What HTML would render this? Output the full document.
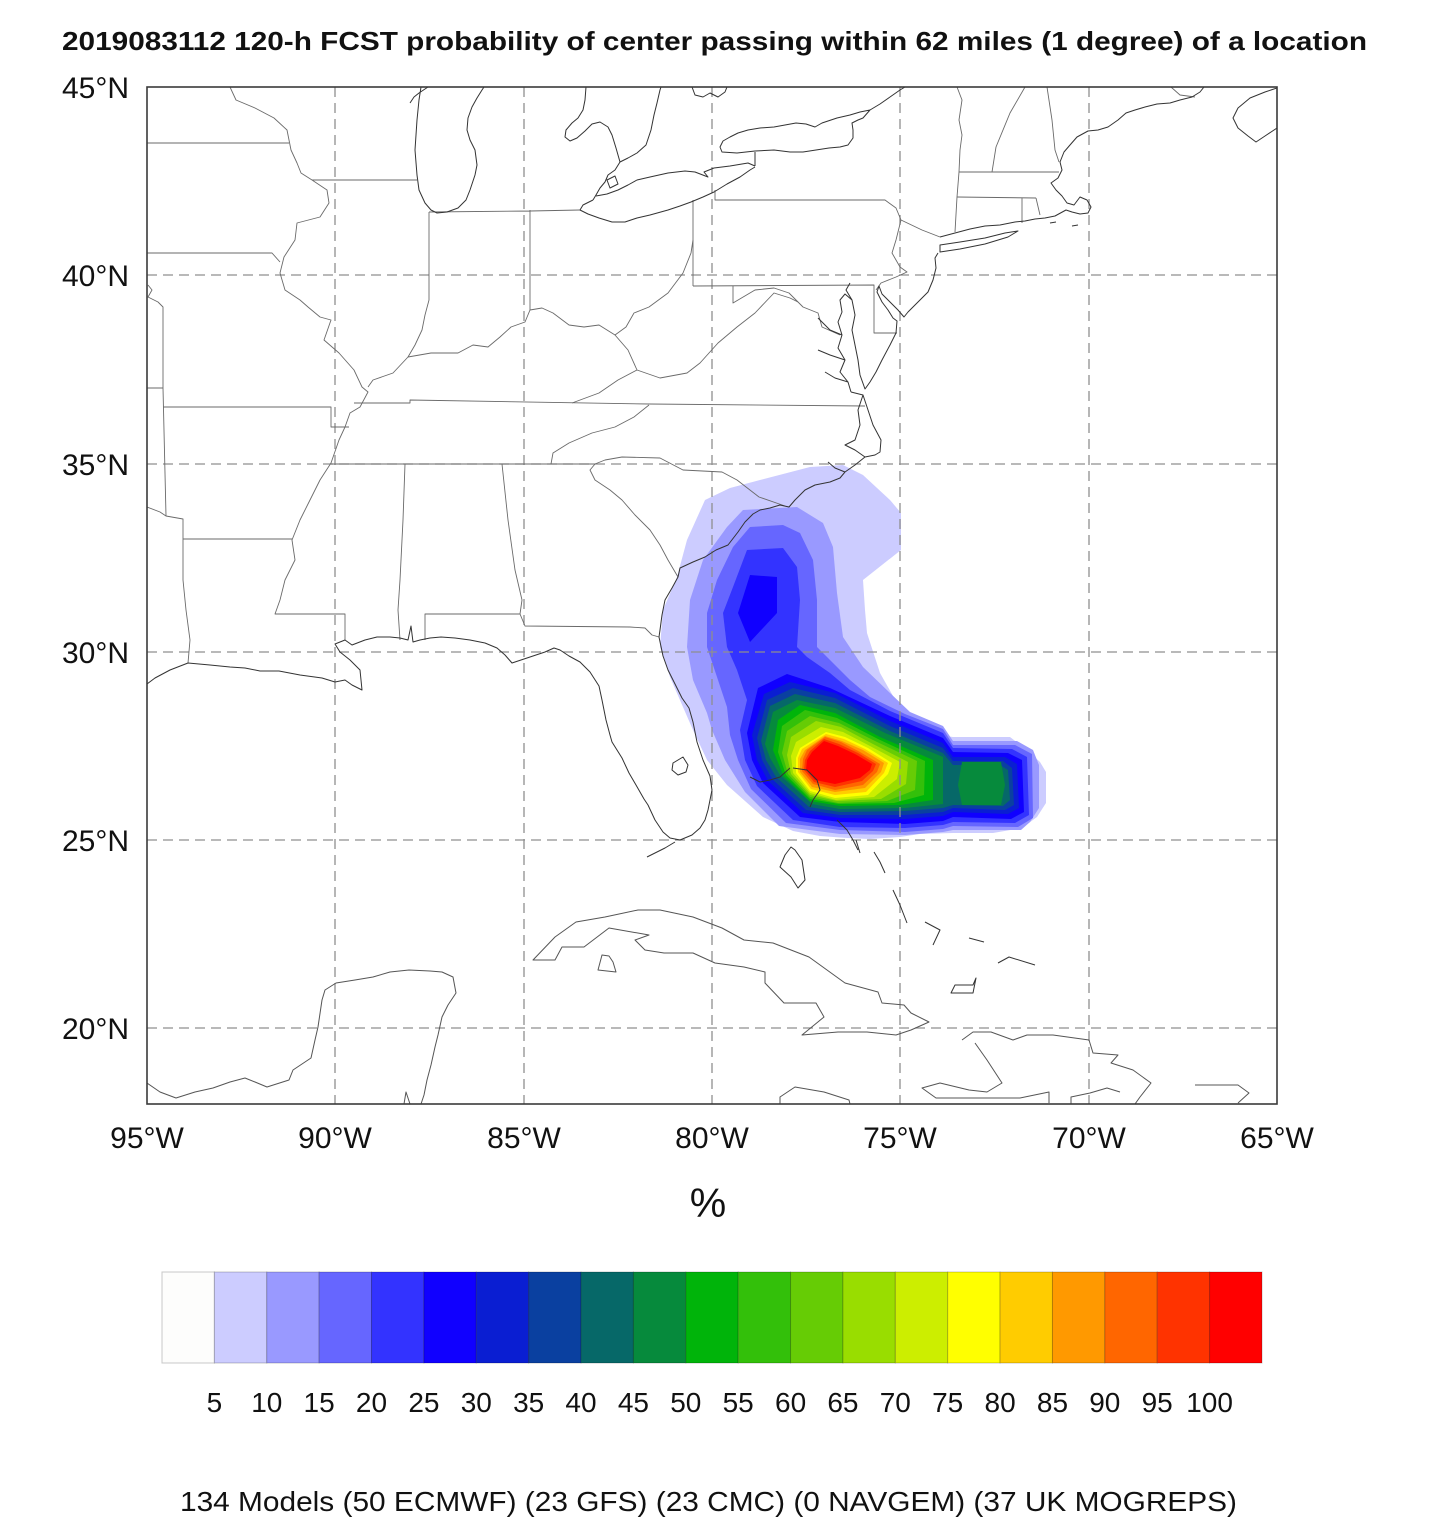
<!DOCTYPE html>
<html><head><meta charset="utf-8"><style>
html,body{margin:0;padding:0;background:#fff;}
svg{display:block;}
text{font-family:"Liberation Sans",Arial,Helvetica,sans-serif;fill:#111;}
</style></head><body>
<svg width="1440" height="1533" viewBox="0 0 1440 1533" xmlns="http://www.w3.org/2000/svg">
<rect x="0" y="0" width="1440" height="1533" fill="#fff"/>
<text x="62" y="50" font-size="26" font-weight="bold" textLength="1305" lengthAdjust="spacingAndGlyphs">2019083112 120-h FCST probability of center passing within 62 miles (1 degree) of a location</text>
<defs><clipPath id="fr"><rect x="147" y="87" width="1130" height="1017"/></clipPath></defs>
<g clip-path="url(#fr)">
<!-- probability fill -->
<g stroke="none">
<polygon fill="#ccccff" points="705,500 730,488 760,480 810,467 843,465 863,475 890,500 901,513 901,550 863,580 865,610 867,633 880,673 897,703 910,722 925,733 953,737 1010,737 1027,750 1040,762 1046,772 1046,803 1037,817 1022,828 993,833 953,833 920,834 900,837 870,839 847,838 820,836 793,831 763,817 727,785 707,760 693,730 683,707 670,677 660,647 663,610 677,577 687,540"/>
<polygon fill="#9999ff" points="727,527 743,510 797,507 823,523 833,547 837,593 843,637 863,667 890,693 910,712 943,726 953,741 1017,741 1033,750 1039,765 1039,808 1030,822 1021,830 953,830 943,832 905,835 840,834 779,826 745,792 725,760 712,730 707,713 693,680 687,647 690,600 703,560"/>
<polygon fill="#6666ff" points="733,547 750,527 783,525 800,533 813,560 817,600 817,647 830,660 850,680 870,697 905,714 943,729 953,745 1015,745 1032,754 1033,818 1018,827 953,826 943,829 905,832 840,830 786,823 751,789 738,760 730,735 727,707 717,677 707,647 707,613 717,580"/>
<polygon fill="#3333ff" points="747,550 783,548 797,567 800,600 797,647 807,657 830,673 850,690 890,711 943,733 953,748 1012,749 1027,757 1029,815 1015,823 953,822 943,825 905,828 840,827 793,820 757,786 745,760 740,730 747,700 737,670 727,647 723,613 733,587"/>
<polygon fill="#1000ff" points="750,575 777,577 777,613 750,642 738,613"/>
<polygon fill="#1000ff" points="758,688 787,674 830,688 890,716 943,738 953,752 1008,753 1022,760 1024,812 1011,819 953,817 943,821 905,824 840,822 800,817 763,783 752,760 747,733"/>
<polygon fill="#0a1ed2" points="764,694 790,682 835,693 890,721 943,743 953,757 1005,757 1017,764 1019,808 1008,814 953,812 943,816 905,819 840,818 803,813 768,781 757,760 752,735"/>
<polygon fill="#0a40a0" points="767,700 793,688 835,698 890,726 943,748 953,761 1003,761 1012,768 1014,805 1005,810 953,808 943,812 905,815 840,815 806,810 772,779 762,760 757,738"/>
<polygon fill="#066868" points="770,706 795,694 835,703 890,731 943,753 953,765 1000,765 1008,770 1010,800 1003,806 953,805 943,808 905,811 840,812 809,807 776,777 766,760 761,741"/>
<polygon fill="#068a3c" points="773,712 797,700 835,708 885,733 943,757 943,804 905,808 840,809 812,804 780,775 770,758 765,744"/>
<polygon fill="#068a3c" points="962,762 1001,762 1005,785 1001,805 962,805 958,785"/>
<polygon fill="#00b40a" points="778,720 800,705 835,713 880,737 933,760 933,800 900,805 840,806 810,801 783,775 773,750"/>
<polygon fill="#33c00a" points="782,726 805,710 837,718 878,739 925,761 924,795 894,803 839,804 810,799 786,775 778,752"/>
<polygon fill="#66cc05" points="787,731 810,716 839,723 875,741 917,761 915,790 887,801 838,803 810,797 788,774 782,753"/>
<polygon fill="#99dd00" points="791,737 816,721 841,727 873,744 908,762 906,784 881,799 837,801 810,795 791,774 787,755"/>
<polygon fill="#ccee00" points="796,742 821,727 843,732 870,746 900,762 897,779 874,797 836,800 810,793 793,773 791,756"/>
<polygon fill="#ffff00" points="800,748 826,732 845,737 868,748 892,763 888,774 868,795 835,798 810,791 796,773 796,758"/>
<polygon fill="#ffcc00" points="802,749 826,734 844,739 865,749 888,763 884,773 866,792 835,795 811,789 798,772 798,758"/>
<polygon fill="#ff9900" points="805,750 825,736 842,741 863,750 884,763 881,772 865,788 835,792 812,787 800,772 800,759"/>
<polygon fill="#ff6600" points="807,750 825,737 841,742 860,752 880,764 877,772 863,785 835,790 813,784 802,771 803,759"/>
<polygon fill="#ff3300" points="810,751 824,739 839,744 858,753 876,764 873,771 862,781 835,787 814,782 804,770 805,760"/>
<polygon fill="#ff0000" points="812,752 824,741 838,746 855,754 872,764 870,770 860,778 835,784 815,780 806,770 807,760"/>
</g>
<!-- grid -->
<g stroke="#8f8f8f" stroke-width="1.3" stroke-dasharray="10,6" fill="none">
<path d="M335,87V1104M524,87V1104M712,87V1104M900,87V1104M1089,87V1104"/>
<path d="M147,275H1277M147,464H1277M147,652H1277M147,840H1277M147,1028H1277"/>
</g>
<!-- state borders -->
<g stroke="#6a6a6a" stroke-width="0.9" fill="none" stroke-linejoin="round">
<path d="M230,87 L236,100 L255,108 L274,118 L287,130 L291,150 L297,163 L301,173 L312,180 L327,190 L329,203 L320,217 L297,223 L295,240 L284,257 L280,273 L285,290 L300,300 L308,307 L320,317 L331,320 L324,340 L339,353 L354,370 L362,387 L368,392 L360,407 L350,413 L345,427 L339,440 L331,463 L320,480 L310,500 L300,520 L292,540 L295,560 L285,580 L280,600 L275,614 L345,614 L345,640"/>
<path d="M147,143 L289,143 M312,180 L417,180 M147,253 L272,253 L280,262"/>
<path d="M148,285 L152,290 L148,297 L158,302 L163,307 L163,388 L166,516 M147,388 L163,388 M163,407 L331,407 L331,427 L349,427"/>
<path d="M147,507 L160,512 L166,516 L183,519 L183,539 L292,539 M183,539 L183,580 L186,610 L190,640 L188,663"/>
<path d="M405,464 L403,520 L400,580 L398,610 L400,640 M331,464 L595,464 M502,464 L508,520 L515,570 L522,600 L520,614"/>
<path d="M425,640 L425,614 L520,614 L525,626 L630,627 L645,628 L652,635 L659,637"/>
<path d="M595,464 L590,470 L595,480 L610,490 L622,500 L635,515 L650,530 L660,545 L668,560 L678,577"/>
<path d="M595,464 L605,460 L622,457 L660,458 L683,470 L722,472 L737,480 L759,497 L785,506"/>
<path d="M551,464 L553,453 L569,443 L592,433 L615,427 L634,417 L649,405"/>
<path d="M354,403 L410,403 L410,400 L649,404 L865,406"/>
<path d="M572,403 L599,393 L618,380 L637,370 L628,350 L615,335 M637,370 L660,378 L687,373 L700,363 L718,343 L737,327 L755,313 L774,293 L790,298 L798,302"/>
<path d="M733,286 L733,303 L755,290 L774,288 L789,293 L803,307 L818,313 L822,327 L840,335"/>
<path d="M693,286 L874,285 L874,333 L897,333 M693,200 L693,286"/>
<path d="M368,387 L373,380 L393,373 L408,357 L431,353 L458,353 L473,345 L488,347 L500,337 L511,327 L525,322 L530,310 L542,308 L553,313 L569,325 L584,327 L599,325 L615,335 L626,327 L634,313 L649,307 L668,293 L683,273 L691,253 L693,240"/>
<path d="M429,212 L429,300 L425,315 L422,330 L415,345 L408,357 M530,210 L530,310 M429,212 L530,211 L580,210"/>
<path d="M715,190 L715,200 L885,200 L896,208 L901,220 L922,230 L940,237 M901,220 L896,240 L892,253 L900,267 L907,272 L896,277 L881,283 L876,290"/>
<path d="M957,87 L962,100 L959,120 L962,135 L960,150 L959,172 L957,197 L955,232 M959,172 L1059,172 M1025,87 L1010,113 L996,147 L992,172 M1047,87 L1052,120 L1055,150 L1059,162"/>
<path d="M957,197 L1036,198 M1022,198 L1022,223 M1036,198 L1040,215 M1171,87 L1180,95 L1195,97"/>
</g>
<!-- coastlines -->
<g stroke="#333" stroke-width="1" fill="none" stroke-linejoin="round">
<path d="M421,87 L419,100 L417,120 L415,150 L417,175 L419,190 L425,203 L431,210 L437,213 L447,212 L458,208 L466,200 L470,190 L475,175 L477,165 L475,150 L470,140 L467,130 L468,118 L472,107 L477,98 L482,90 L484,87 M410,103 L414,97 L419,93 L425,89 L428,87"/>
<path d="M586,87 L585,100 L583,110 L578,118 L572,123 L566,130 L565,137 L570,141 L577,138 L585,131 L592,124 L600,122 L608,127 L612,135 L616,148 L620,162 L628,158 L637,153 L646,145 L651,130 L654,115 L657,103 L660,90 L661,87"/>
<path d="M692,87 L695,95 L703,97 L710,93 L718,97 L725,92 L727,87"/>
<path d="M620,162 L615,170 L608,175 L605,182 L600,188 L596,195 L593,200 M607,180 L615,176 L618,184 L610,188 Z"/>
<path d="M593,200 L583,205 L580,210 L588,214 L599,218 L612,222 L625,222 L637,218 L650,215 L668,210 L680,206 L691,202 L703,197 L714,192 L727,184 L740,177 L750,170 L755,167 M596,196 L607,194 L618,190 L628,185 L637,180 L650,177 L668,173 L685,171 L695,172 L708,177 L704,172 L714,168 L730,166 L748,163 L755,166"/>
<path d="M720,147 L722,152 L737,153 L755,151 L774,150 L790,152 L803,152 L816,150 L829,148 L840,147 L848,145 L853,138 L853,130 L852,123 L858,120 L863,118 L870,110 L860,112 L850,115 L837,118 L828,121 L822,123 L815,127 L806,124 L796,123 L785,125 L774,127 L760,128 L748,130 L738,133 L730,137 L723,141 Z M870,110 L880,104 L890,97 L900,90 L905,87 M755,152 L755,166"/>
<path d="M940,237 L955,233 L970,229 L985,226 L1000,225 L1015,222 L1025,221 L1035,219 L1045,218 L1055,216 L1066,210 L1072,212 L1080,214 L1088,213 L1091,207 L1087,200 L1080,197 L1074,205 L1067,203 L1062,196 L1056,190 L1051,183 L1058,178 L1062,170 L1060,162 L1064,152 L1070,145 L1077,137 L1088,131 L1098,130 L1108,127 L1118,120 L1126,113 L1135,110 L1145,107 L1157,104 L1170,103 L1180,100 L1192,97 L1200,92 L1204,87"/>
<path d="M940,245 L960,242 L985,238 L1005,233 L1018,231 L1008,237 L985,244 L960,249 L940,252 Z M1050,223 L1056,222 M1072,226 L1078,225"/>
<path d="M1277,88 L1265,92 L1250,98 L1238,108 L1233,118 L1238,128 L1248,136 L1256,142 L1265,136 L1277,128"/>
<path d="M938,253 L935,258 L936,268 L933,280 L928,292 L918,302 L908,312 L904,317 L898,310 L890,302 L882,294 L879,286 L877,292 L882,302 L888,310 L893,318 L897,321 L896,333 L890,345 L882,360 L876,372 L870,382 L865,389 L860,375 L858,360 L855,345 L852,330 L855,315 L852,300 L845,294 L840,300 L842,312 L838,322 L842,335 L838,348 L845,360 L840,372 L848,382 L851,392"/>
<path d="M842,335 L830,330 L818,318 M845,360 L830,355 L818,350 M848,382 L835,378 L825,372 M852,300 L846,290 L850,283"/>
<path d="M851,392 L863,395 L868,410 L873,425 L881,440 L880,452 L875,455 L865,457 L855,465 L845,472 L840,478 L830,482 L815,485 L805,490 L795,500 L789,507 L780,505 L770,508 L760,510 L753,514 L745,522 L738,532 L728,545 L716,550 L705,557 L693,562 L680,568 L678,577 L672,588 L665,600 L662,615 L660,630 L659,637 L663,656 L668,670 L674,682 L682,698 L689,708 L693,722 L697,742 L703,760 L710,776 L712,790 L708,810 L705,820 L700,828 L692,835 L680,840 L670,838 L663,832 L655,820 L648,805 L644,799 L636,785 L629,773 L622,758 L612,742 L610,735 L606,720 L602,700 L599,686 L590,672 L580,662 L569,656 L560,650 L554,648 L545,652 L530,657 L512,663 L505,655 L497,648 L485,643 L470,640 L455,638 L441,637 L430,638 L420,640 L413,642 L411,626 L408,640 L400,638 L390,637 L377,637 L365,640 L352,645 L345,640 L335,644 L340,652 L350,660 L360,670 L362,690 L352,685 L345,680 L335,682 L322,678 L300,675 L279,671 L260,671 L245,668 L230,667 L210,665 L188,663 L170,670 L155,678 L147,684"/>
<path d="M863,395 L858,410 L860,425 L855,440 L845,445 L855,450 L865,457 M845,472 L835,468 L828,462 M675,842 L665,848 L655,853 L647,857"/>
<path d="M673,763 L683,757 L688,765 L686,772 L678,775 L672,770 Z"/>
<path d="M750,777 L760,782 L770,780 L780,777 L790,768 M793,768 L807,770 L817,780 L820,790 L813,800 L810,807 M837,820 L847,830 L853,840 L858,850 M856,840 L860,853"/>
<path d="M791,847 L785,855 L780,867 L791,877 L798,888 L805,880 L802,860 L795,850 Z M874,852 L880,862 L885,873 M893,890 L900,905 L907,923 M925,922 L940,930 L933,945 M969,938 L984,942 M998,963 L1009,957 L1035,965 M951,993 L955,985 L973,985 L976,978 L973,993 Z"/>
</g>
<g stroke="#555" stroke-width="1" fill="none" stroke-linejoin="round">
<path d="M533,960 L555,960 L562,947 L584,947 L609,928 L649,935 L635,940 L645,950 L664,953 L693,953 L715,963 L744,967 L765,972 L765,983 L784,1003 L816,1003 L824,1017 L802,1035 L838,1032 L867,1032 L896,1035 L911,1030 L929,1022 L911,1013 L904,1005 L882,1003 L878,992 L845,983 L809,957 L773,943 L744,940 L722,928 L693,917 L660,910 L638,910 L605,917 L576,922 L555,937 Z"/>
<path d="M602,955 L598,970 L616,972 L613,962 L609,956 Z"/>
<path d="M147,1083 L160,1092 L176,1098 L195,1092 L213,1088 L230,1082 L245,1078 L255,1082 L267,1087 L289,1080 L293,1070 L305,1062 L311,1058 L315,1040 L318,1027 L322,1000 L325,990 L336,983 L355,980 L373,977 L390,972 L409,970 L430,971 L442,972 L453,977 L456,993 L448,1005 L442,1017 L438,1035 L435,1047 L431,1065 L427,1080 L424,1095 L421,1104 M404,1104 L406,1092 L410,1104"/>
<path d="M962,1040 L973,1032 L991,1032 L1013,1040 L1027,1035 L1053,1035 L1089,1040 L1093,1053 L1118,1055 L1111,1063 L1133,1070 L1151,1083 L1140,1097 L1135,1104 M975,1043 L987,1060 L1002,1083 L987,1092 L969,1090 L940,1083 L922,1088 L936,1098 L947,1098 L990,1098 L1020,1098 L1049,1092 L1049,1103 M1071,1104 L1071,1097 L1090,1093 L1107,1088 L1120,1092"/>
<path d="M780,1104 L780,1097 L795,1087 L824,1092 L849,1100 L850,1104 M1195,1085 L1238,1085 L1249,1093 L1238,1103"/>
</g>
</g>
<rect x="147" y="87" width="1130" height="1017" fill="none" stroke="#3a3a3a" stroke-width="1.6"/>
<!-- axis labels -->
<g font-size="30" text-anchor="end">
<text x="129" y="98">45°N</text>
<text x="129" y="286">40°N</text>
<text x="129" y="475">35°N</text>
<text x="129" y="663">30°N</text>
<text x="129" y="851">25°N</text>
<text x="129" y="1039">20°N</text>
</g>
<g font-size="30" text-anchor="middle">
<text x="147" y="1148">95°W</text>
<text x="335" y="1148">90°W</text>
<text x="524" y="1148">85°W</text>
<text x="712" y="1148">80°W</text>
<text x="900" y="1148">75°W</text>
<text x="1089" y="1148">70°W</text>
<text x="1277" y="1148">65°W</text>
</g>
<text x="708" y="1217" font-size="41" text-anchor="middle">%</text>
<!-- colorbar -->
<g stroke="rgba(0,0,0,0.22)" stroke-width="1">
<rect x="162" y="1272" width="52.38" height="91" fill="#fdfdfc" stroke="#c8c8c8"/>
<rect x="214.38" y="1272" width="52.38" height="91" fill="#ccccff"/>
<rect x="266.76" y="1272" width="52.38" height="91" fill="#9999ff"/>
<rect x="319.14" y="1272" width="52.38" height="91" fill="#6666ff"/>
<rect x="371.52" y="1272" width="52.38" height="91" fill="#3333ff"/>
<rect x="423.9" y="1272" width="52.38" height="91" fill="#1000ff"/>
<rect x="476.28" y="1272" width="52.38" height="91" fill="#0a1ed2"/>
<rect x="528.66" y="1272" width="52.38" height="91" fill="#0a40a0"/>
<rect x="581.04" y="1272" width="52.38" height="91" fill="#066868"/>
<rect x="633.42" y="1272" width="52.38" height="91" fill="#068a3c"/>
<rect x="685.8" y="1272" width="52.38" height="91" fill="#00b40a"/>
<rect x="738.18" y="1272" width="52.38" height="91" fill="#33c00a"/>
<rect x="790.56" y="1272" width="52.38" height="91" fill="#66cc05"/>
<rect x="842.94" y="1272" width="52.38" height="91" fill="#99dd00"/>
<rect x="895.32" y="1272" width="52.38" height="91" fill="#ccee00"/>
<rect x="947.7" y="1272" width="52.38" height="91" fill="#ffff00"/>
<rect x="1000.08" y="1272" width="52.38" height="91" fill="#ffcc00"/>
<rect x="1052.46" y="1272" width="52.38" height="91" fill="#ff9900"/>
<rect x="1104.84" y="1272" width="52.38" height="91" fill="#ff6600"/>
<rect x="1157.22" y="1272" width="52.38" height="91" fill="#ff3300"/>
<rect x="1209.6" y="1272" width="52.38" height="91" fill="#ff0000"/>
</g>
<g font-size="28" text-anchor="middle">
<text x="214.4" y="1412">5</text>
<text x="266.8" y="1412">10</text>
<text x="319.1" y="1412">15</text>
<text x="371.5" y="1412">20</text>
<text x="423.9" y="1412">25</text>
<text x="476.3" y="1412">30</text>
<text x="528.7" y="1412">35</text>
<text x="581.0" y="1412">40</text>
<text x="633.4" y="1412">45</text>
<text x="685.8" y="1412">50</text>
<text x="738.2" y="1412">55</text>
<text x="790.6" y="1412">60</text>
<text x="842.9" y="1412">65</text>
<text x="895.3" y="1412">70</text>
<text x="947.7" y="1412">75</text>
<text x="1000.1" y="1412">80</text>
<text x="1052.5" y="1412">85</text>
<text x="1104.8" y="1412">90</text>
<text x="1157.2" y="1412">95</text>
<text x="1209.6" y="1412">100</text>
</g>
<text x="180" y="1511" font-size="27.5" textLength="1057" lengthAdjust="spacingAndGlyphs">134 Models (50 ECMWF) (23 GFS) (23 CMC) (0 NAVGEM) (37 UK MOGREPS)</text>
</svg>
</body></html>
